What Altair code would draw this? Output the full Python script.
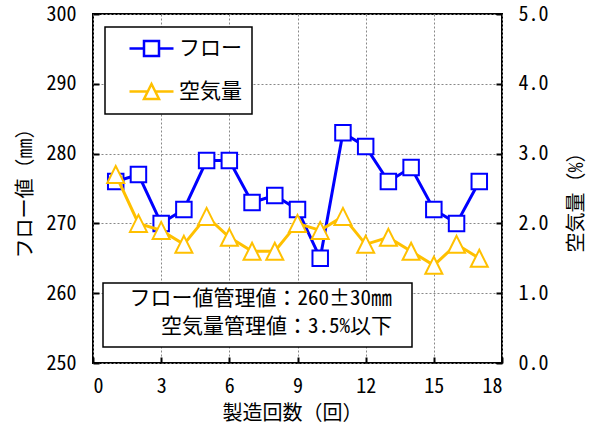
import altair as alt
import pandas as pd

# Production run number and measured values
runs = list(range(1, 18))
flow = [276, 277, 270, 272, 279, 279, 273, 274, 272, 265, 283, 281, 276, 278, 272, 270, 276]
air = [2.7, 2.0, 1.9, 1.7, 2.1, 1.8, 1.6, 1.6, 2.0, 1.9, 2.1, 1.7, 1.8, 1.6, 1.4, 1.7, 1.5]

series_names = ["フロー", "空気量"]
series_colors = ["#0000FF", "#FFC000"]

x_ticks = [0, 3, 6, 9, 12, 15, 18]
flow_ticks = [250, 260, 270, 280, 290, 300]
air_ticks = [0, 1, 2, 3, 4, 5]

note_lines = ["フロー値管理値：260±30㎜", "空気量管理値：3.5%以下"]

FONT = "Noto Sans Mono CJK JP, Noto Sans CJK JP"
BLUE, GOLD = series_colors

# marker outlines: data triangles and legend glyphs (line + marker)
TRI = "M0,-1L1,1L-1,1Z"
LEG_SQ = "M-2.2,0L-0.75,0M0.75,0L2.2,0M-0.75,-0.75L0.75,-0.75L0.75,0.75L-0.75,0.75Z"
LEG_TRI = "M-2.2,0L-0.375,0M0.375,0L2.2,0M0,-0.75L0.75,0.75L-0.75,0.75Z"

df = pd.DataFrame({"run": runs, "flow": flow, "air": air})
legend_df = pd.DataFrame({"series": series_names})

W, H = 409, 349

# short inward tick marks along the frame
inward = dict(labels=False, grid=False, ticks=True, tickSize=6, tickWidth=2,
              tickColor="black", domain=False, title=None)

x_scale = alt.Scale(domain=[0, 18], nice=False)
x_enc = alt.X(
    "run:Q",
    scale=x_scale,
    axis=alt.Axis(
        values=x_ticks, grid=True, title="製造回数（回）",
        labelPadding=23, labelBaseline="middle",
        titleX=199, titleY=50, titleBaseline="middle", titleAlign="center",
    ),
)
x_plain = alt.X("run:Q", scale=x_scale, axis=None)

flow_scale = alt.Scale(domain=[250, 300], nice=False, zero=False)
y_flow = alt.Y(
    "flow:Q",
    scale=flow_scale,
    axis=alt.Axis(
        orient="left", values=flow_ticks, grid=True, title="フロー値（㎜）",
        labelPadding=17,
        titleAngle=270, titleX=-68, titleY=174, titleBaseline="middle", titleAlign="center",
    ),
)
y_flow_plain = alt.Y("flow:Q", scale=flow_scale, axis=None)

air_scale = alt.Scale(domain=[0, 5], nice=False)
y_air = alt.Y(
    "air:Q",
    scale=air_scale,
    axis=alt.Axis(
        orient="right", values=air_ticks, format=".1f", grid=False, title="空気量（%）",
        labelPadding=16,
        titleAngle=270, titleX=74, titleY=183, titleBaseline="middle", titleAlign="center",
    ),
)
y_air_plain = alt.Y("air:Q", scale=air_scale, axis=None)

base = alt.Chart(df)
empty = alt.Chart(df).transform_filter("false")

flow_line = base.mark_line(color=BLUE, strokeWidth=3).encode(x=x_enc, y=y_flow)
flow_pts = base.mark_point(
    shape="square", size=240, filled=True, fill="white", stroke=BLUE, strokeWidth=2, opacity=1
).encode(x=x_enc, y=y_flow_plain)
flow_ticks_in = empty.mark_point().encode(
    y=alt.Y("flow:Q", scale=flow_scale,
            axis=alt.Axis(orient="right", offset=-W, values=flow_ticks, **inward))
)

air_line = base.mark_line(color=GOLD, strokeWidth=3).encode(x=x_plain, y=y_air)
air_pts = base.mark_point(
    shape=TRI, size=289, filled=True, fill="white", stroke=GOLD, strokeWidth=2, opacity=1
).encode(x=x_plain, y=y_air_plain)
air_ticks_in = empty.mark_point().encode(
    y=alt.Y("air:Q", scale=air_scale,
            axis=alt.Axis(orient="left", offset=-W, values=air_ticks, **inward))
)

x_ticks_in = empty.mark_point().encode(
    x=alt.X("run:Q", scale=x_scale,
            axis=alt.Axis(orient="top", offset=-H, values=x_ticks, **inward))
)

legend = alt.Legend(
    title=None, orient="none", legendX=12, legendY=13,
    fillColor="white", strokeColor="black", padding=10,
    symbolSize=400, symbolStrokeWidth=2.5, symbolFillColor="white", symbolOpacity=1,
    symbolOffset=25, labelOffset=16, rowPadding=18,
    labelFont=FONT, labelFontSize=21, labelColor="black",
    labelExpr="datum.label + '\u2002\u2009'",
)

key = alt.Chart(legend_df).transform_filter("false").mark_point(
    filled=False, fill="white", strokeWidth=2.5, opacity=1
).encode(
    color=alt.Color("series:N", scale=alt.Scale(domain=series_names, range=series_colors), legend=legend),
    shape=alt.Shape("series:N", scale=alt.Scale(domain=series_names, range=[LEG_SQ, LEG_TRI]), legend=legend),
)

note_src = alt.Chart(pd.DataFrame({"line": note_lines}))
note_box = note_src.transform_filter("datum.line == '%s'" % note_lines[0]).mark_rect(
    fill="white", stroke="black", strokeWidth=1.5
).encode(x=alt.value(10), x2=alt.value(319), y=alt.value(269), y2=alt.value(333))
note_1 = note_src.transform_filter("datum.line == '%s'" % note_lines[0]).mark_text(
    align="right", baseline="middle", font=FONT, fontSize=21, color="black"
).encode(text="line:N", x=alt.value(299), y=alt.value(285))
note_2 = note_src.transform_filter("datum.line == '%s'" % note_lines[1]).mark_text(
    align="right", baseline="middle", font=FONT, fontSize=21, color="black"
).encode(text="line:N", x=alt.value(299), y=alt.value(313))

chart = alt.layer(
    alt.layer(flow_line, flow_pts, flow_ticks_in).resolve_axis(y="independent"),
    alt.layer(air_line, air_pts, air_ticks_in).resolve_axis(y="independent"),
    x_ticks_in,
    key, note_box, note_1, note_2,
).resolve_scale(
    y="independent"
).resolve_axis(
    x="independent", y="independent"
).properties(
    width=W, height=H,
    autosize=alt.AutoSizeParams(type="none"),
    padding={"left": 93, "top": 14, "right": 96, "bottom": 65},
).configure_view(
    stroke="black", strokeWidth=2
).configure_axis(
    domain=False, ticks=False, tickSize=0,
    labelFont=FONT, titleFont=FONT, labelFontSize=20, titleFontSize=20,
    labelColor="black", titleColor="black", titleFontWeight="normal",
    gridColor="#888888", gridDash=[2, 2], gridWidth=1,
).configure_legend(
    strokeWidth=1.5
)

chart.save("out.html", embed_options={"renderer": "svg", "actions": False})
